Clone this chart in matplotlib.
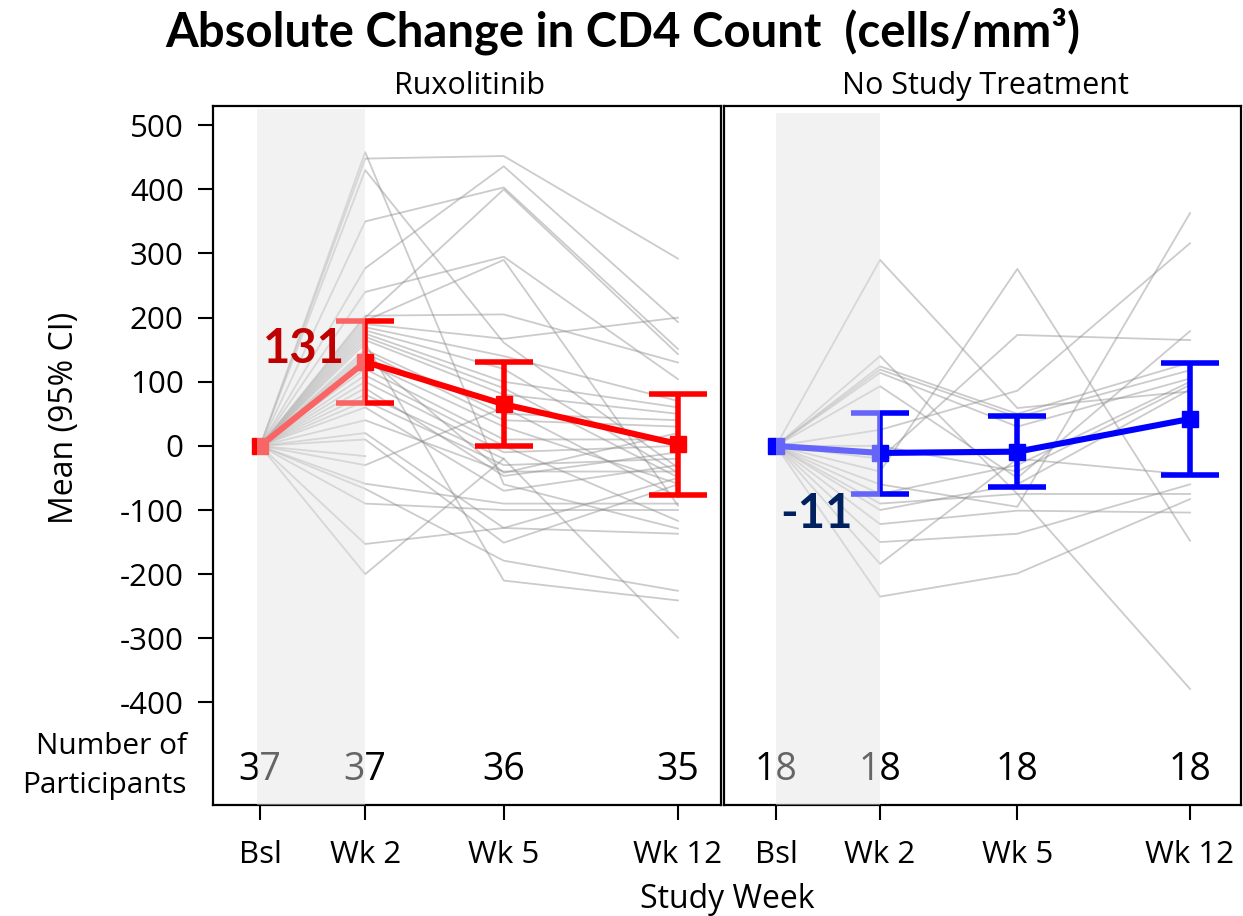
import numpy as np
import matplotlib.pyplot as plt

plt.rcParams['font.family'] = ['Open Sans', 'DejaVu Sans']
plt.rcParams['axes.unicode_minus'] = False

nan = np.nan

# visit labels and where they sit on the x axis
weeks = ['Bsl', 'Wk 2', 'Wk 5', 'Wk 12']
xpos = [0, 1, 2.32, 3.98]

# Ruxolitinib arm: mean change and 95% CI
rux_mean = [0, 131, 65, 3]
rux_lo = [0, 67, 0, -76]
rux_hi = [0, 195, 131, 81]
rux_n = [37, 37, 36, 35]

# No study treatment arm
nst_mean = [0, -11, -9, 42]
nst_lo = [0, -75, -64, -45]
nst_hi = [0, 51, 47, 129]
nst_n = [18, 18, 18, 18]

# individual participants, change from baseline at Wk 2 / Wk 5 / Wk 12
rux_wk2 = [448, 458, 430, 350, 277, 240, 203, 200, 195, 190, 185, 180, 175, 170, 165, 160, 150, 145,
           140, 130, 120, 110, 100, 90, 80, 70, 60, 40, 20, 10, -16, -30, -59, -67, -90, -153, -200]
rux_wk5 = [452, -60, 161, 403, 436, 295, 205, 400, 290, 167, 140, 120, 100, 90, 80, -210, 50, 40,
           -42, 30, 10, 0, -10, -47, -20, -30, -70, -40, -128, -151, nan, 60, -90, -179, -100, -128, -20]
rux_wk12 = [292, -129, -34, 151, 193, 104, 130, 143, -93, 200, 70, -42, 60, -49, 50, -241, 40, 30,
            20, -59, 10, -117, 0, -10, -299, -20, -30, -40, -50, -60, nan, -80, -90, -226, -100, -137, nan]

nst_wk2 = [290, -40, 140, -60, 25, -20, 93, 124, 119, 114, 0, -75, -90, -122, -184, -235, -150, -100]
nst_wk5 = [59, 276, -75, -95, 86, 173, -50, 50, 45, 30, -40, -30, -75, -101, -20, -199, -137, -60]
nst_wk12 = [85, -148, -379, 363, 316, 165, 179, 130, 118, 105, 95, 100, -75, -104, -45, -83, -60, 88]

BAND = '#f2f2f2'


def draw_panel(ax, wk2, wk5, wk12, mean, lo, hi, n, color, band_lo, band_top):
    # spaghetti of each participant
    for a, b, c in zip(wk2, wk5, wk12):
        ax.plot(xpos, [0, a, b, c], color='#8c8c8c', alpha=0.45, lw=1.3, zorder=2)

    # mean with 95% CI
    mean = np.array(mean, dtype=float)
    err = [mean - np.array(lo), np.array(hi) - mean]
    err[0][0] = nan
    err[1][0] = nan
    ax.errorbar(xpos, mean, yerr=err, color=color, lw=4.4, marker='s', markersize=12,
                capsize=21, capthick=4.0, elinewidth=4.0, zorder=4)

    # participant counts row
    for x, cnt in zip(xpos, n):
        ax.text(x, -505, str(cnt), ha='center', va='center', fontsize=27, zorder=5)

    # shaded Bsl-Wk 2 window, behind and as a veil on top
    ax.axvspan(band_lo, 1.0, ymin=0, ymax=band_top, color=BAND, lw=0, zorder=0)
    ax.axvspan(band_lo, 1.0, ymin=0, ymax=band_top, color=BAND, alpha=0.42, lw=0, zorder=6)

    ax.set_ylim(-560, 530)
    ax.set_xticks(xpos)
    ax.set_xticklabels(weeks)
    ax.set_yticks(range(-400, 501, 100))
    ax.tick_params(direction='out', length=11, width=1.5, labelsize=22.5, pad=10)
    ax.tick_params(axis='x', pad=14)
    for s in ax.spines.values():
        s.set_linewidth(1.6)


fig = plt.figure(figsize=(12.43, 9.16), dpi=100)

ax1 = fig.add_axes([213 / 1243, 1 - 805 / 916, (721 - 213) / 1243, (805 - 106) / 916])
ax2 = fig.add_axes([724 / 1243, 1 - 805 / 916, (1241 - 724) / 1243, (805 - 106) / 916])

draw_panel(ax1, rux_wk2, rux_wk5, rux_wk12, rux_mean, rux_lo, rux_hi, rux_n, '#ff0000', -0.03, 0.995)
draw_panel(ax2, nst_wk2, nst_wk5, nst_wk12, nst_mean, nst_lo, nst_hi, nst_n, '#0000ff', 0.0, 0.99)

ax1.set_xlim(-0.45, 4.39)
ax2.set_xlim(-0.5, 4.47)
ax2.tick_params(axis='y', left=False, labelleft=False)

# value callouts at Wk 2
ax1.text(0.42, rux_mean[1] + 20, str(rux_mean[1]), color='#c00000', fontsize=34,
         fontweight='bold', family='Lato', ha='center', va='center', zorder=8)
ax2.text(0.39, nst_mean[1] - 95, str(nst_mean[1]), color='#002060', fontsize=34,
         fontweight='bold', family='Lato', ha='center', va='center', zorder=8)

fig.text(623 / 1243, 1 - 31 / 916, 'Absolute Change in CD4 Count  (cells/mm³)',
         fontsize=34, fontweight='bold', family='Lato', ha='center', va='center')
fig.text(470 / 1243, 1 - 86 / 916, 'Ruxolitinib', fontsize=22, ha='center', va='center')
fig.text(985 / 1243, 1 - 86 / 916, 'No Study Treatment', fontsize=22, ha='center', va='center')
fig.text(65 / 1243, 1 - 418 / 916, 'Mean (95% CI)', fontsize=23, rotation=90,
         ha='center', va='center')
fig.text(187 / 1243, 1 - 766 / 916, 'Number of\nParticipants', fontsize=21.5,
         ha='right', va='center', linespacing=1.45)
fig.text(727 / 1243, 1 - 899 / 916, 'Study Week', fontsize=23, ha='center', va='center')

fig.savefig('out.png', dpi=100)
